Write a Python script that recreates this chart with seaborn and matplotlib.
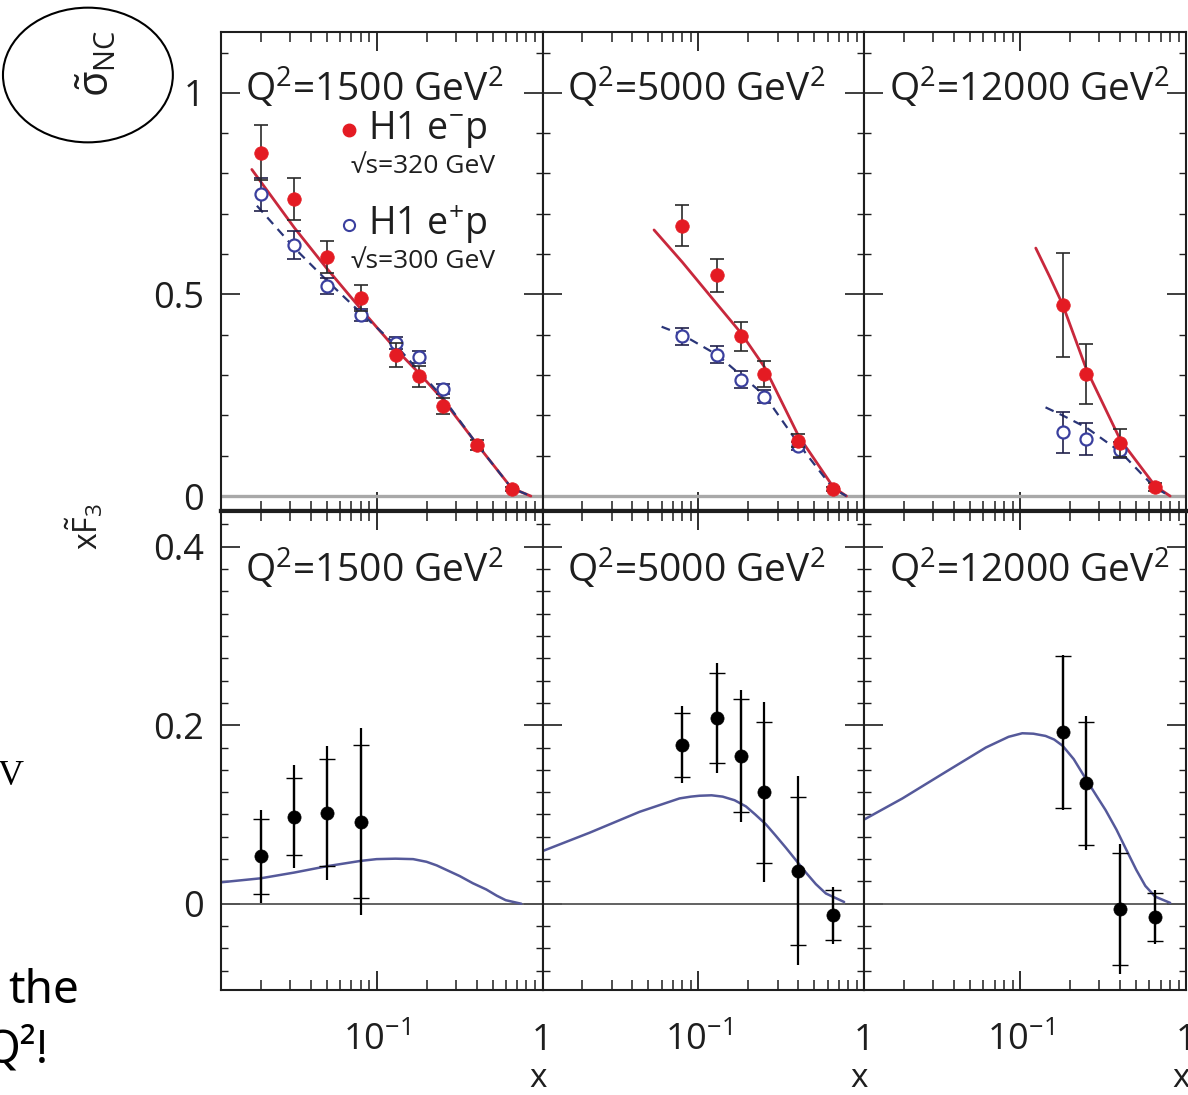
import numpy as np
import matplotlib
matplotlib.use("Agg")
import matplotlib.pyplot as plt
import seaborn as sns
from matplotlib.ticker import FixedLocator, MultipleLocator, FuncFormatter, LogLocator, NullFormatter
from matplotlib.patches import Ellipse

# ---------------- data ----------------
q2_values = ["1500", "5000", "12000"]

# reduced NC cross section, H1 e-p (red, filled)
em_x_1500 = [0.02, 0.032, 0.05, 0.08, 0.13, 0.18, 0.25, 0.40, 0.65]
em_y_1500 = [0.852, 0.737, 0.593, 0.492, 0.350, 0.297, 0.224, 0.127, 0.017]
em_e_1500 = [0.068, 0.052, 0.040, 0.032, 0.030, 0.026, 0.020, 0.012, 0.005]
em_x_5000 = [0.08, 0.13, 0.18, 0.25, 0.40, 0.65]
em_y_5000 = [0.671, 0.548, 0.396, 0.302, 0.137, 0.018]
em_e_5000 = [0.052, 0.041, 0.035, 0.032, 0.016, 0.005]
em_x_12000 = [0.18, 0.25, 0.40, 0.65]
em_y_12000 = [0.474, 0.302, 0.131, 0.022]
em_e_12000 = [0.130, 0.074, 0.035, 0.010]

# H1 e+p (blue, open)
ep_x_1500 = [0.02, 0.032, 0.05, 0.08, 0.13, 0.18, 0.25]
ep_y_1500 = [0.748, 0.622, 0.522, 0.448, 0.380, 0.345, 0.265]
ep_e_1500 = [0.042, 0.035, 0.020, 0.015, 0.015, 0.015, 0.012]
ep_x_5000 = [0.08, 0.13, 0.18, 0.25, 0.40]
ep_y_5000 = [0.396, 0.351, 0.289, 0.246, 0.125]
ep_e_5000 = [0.022, 0.020, 0.020, 0.016, 0.010]
ep_x_12000 = [0.18, 0.25, 0.40]
ep_y_12000 = [0.158, 0.141, 0.115]
ep_e_12000 = [0.050, 0.040, 0.020]

# theory curves, top row
sm_em_x_1500 = [0.0177, 0.02, 0.032, 0.05, 0.08, 0.13, 0.18, 0.25, 0.40, 0.65, 0.85]
sm_em_y_1500 = [0.81, 0.78, 0.665, 0.565, 0.465, 0.365, 0.305, 0.24, 0.13, 0.02, 0.0]
sm_ep_x_1500 = [0.019, 0.032, 0.05, 0.08, 0.13, 0.18, 0.25, 0.40, 0.65, 0.85]
sm_ep_y_1500 = [0.72, 0.615, 0.535, 0.455, 0.375, 0.31, 0.245, 0.13, 0.02, 0.0]
sm_em_x_5000 = [0.054, 0.08, 0.13, 0.18, 0.25, 0.40, 0.65, 0.78]
sm_em_y_5000 = [0.66, 0.58, 0.475, 0.405, 0.32, 0.15, 0.022, 0.0]
sm_ep_x_5000 = [0.06, 0.08, 0.13, 0.18, 0.25, 0.40, 0.65, 0.78]
sm_ep_y_5000 = [0.42, 0.40, 0.35, 0.30, 0.25, 0.13, 0.018, 0.0]
sm_em_x_12000 = [0.124, 0.15, 0.18, 0.25, 0.40, 0.65, 0.80]
sm_em_y_12000 = [0.615, 0.545, 0.475, 0.315, 0.14, 0.025, 0.0]
sm_ep_x_12000 = [0.142, 0.18, 0.25, 0.40, 0.65, 0.80]
sm_ep_y_12000 = [0.22, 0.20, 0.17, 0.11, 0.02, 0.0]

# xF3 (bottom row)
f3_x_1500 = [0.02, 0.032, 0.05, 0.08]
f3_y_1500 = [0.053, 0.0975, 0.102, 0.092]
f3_tot_1500 = [0.052, 0.058, 0.075, 0.105]
f3_sta_1500 = [0.042, 0.043, 0.060, 0.086]
f3_x_5000 = [0.08, 0.13, 0.18, 0.25, 0.40, 0.65]
f3_y_5000 = [0.178, 0.208, 0.166, 0.125, 0.037, -0.013]
f3_tot_5000 = [0.043, 0.062, 0.074, 0.101, 0.106, 0.032]
f3_sta_5000 = [0.036, 0.050, 0.063, 0.079, 0.083, 0.028]
f3_x_12000 = [0.18, 0.25, 0.40, 0.65]
f3_y_12000 = [0.192, 0.135, -0.006, -0.015]
f3_tot_12000 = [0.087, 0.075, 0.073, 0.030]
f3_sta_12000 = [0.085, 0.069, 0.063, 0.027]

th_x_1500 = [0.0115, 0.02, 0.032, 0.05, 0.08, 0.10, 0.13, 0.166, 0.20, 0.23, 0.27, 0.317, 0.38, 0.458, 0.53, 0.60, 0.745]
th_y_1500 = [0.024, 0.0285, 0.035, 0.042, 0.048, 0.050, 0.0505, 0.050, 0.047, 0.043, 0.037, 0.031, 0.023, 0.016, 0.009, 0.004, 0.0]
th_x_5000 = [0.0115, 0.0221, 0.0442, 0.0769, 0.09, 0.1015, 0.12, 0.14, 0.165, 0.1935, 0.22, 0.255, 0.29, 0.337, 0.39, 0.444, 0.51, 0.586, 0.755]
th_y_5000 = [0.059, 0.0796, 0.103, 0.118, 0.120, 0.121, 0.1215, 0.120, 0.116, 0.109, 0.100, 0.089, 0.077, 0.0626, 0.048, 0.035, 0.022, 0.0115, 0.002]
th_x_12000 = [0.0115, 0.0195, 0.034, 0.062, 0.085, 0.1028, 0.12, 0.142, 0.16, 0.18, 0.21, 0.25, 0.29, 0.3265, 0.38, 0.43, 0.50, 0.567, 0.65, 0.80]
th_y_12000 = [0.0945, 0.118, 0.1455, 0.175, 0.187, 0.191, 0.1905, 0.188, 0.184, 0.177, 0.162, 0.139, 0.120, 0.105, 0.083, 0.0626, 0.038, 0.02, 0.008, 0.001]

top_ticks = [0, 0.5, 1]
top_tick_labels = ["0", "0.5", "1"]
bot_ticks = [0, 0.2, 0.4]
bot_tick_labels = ["0", "0.2", "0.4"]

# ---------------- style ----------------
sns.set_theme(style="ticks")
plt.rcParams["font.family"] = ["Open Sans", "DejaVu Sans"]
plt.rcParams["mathtext.fontset"] = "custom"
plt.rcParams["mathtext.rm"] = "Open Sans"
plt.rcParams["mathtext.it"] = "Open Sans:italic"
plt.rcParams["mathtext.bf"] = "Open Sans:bold"
plt.rcParams["mathtext.default"] = "regular"
plt.rcParams["axes.unicode_minus"] = True

RED = "#e41b23"
RED_LINE = "#c8283c"
BLUE = "#3a3f9e"
BLUE_LINE = "#2a3578"
CURVE3 = "#55599a"
INK = "#1e1e1e"

fig = plt.figure(figsize=(11.88, 10.95), dpi=100)
gs = fig.add_gridspec(2, 3, left=0.1858, right=0.9985, bottom=0.0959, top=0.9708,
                      wspace=0, hspace=0)
axes = [[fig.add_subplot(gs[r, c]) for c in range(3)] for r in range(2)]

top_sets = [
    (em_x_1500, em_y_1500, em_e_1500, ep_x_1500, ep_y_1500, ep_e_1500,
     sm_em_x_1500, sm_em_y_1500, sm_ep_x_1500, sm_ep_y_1500),
    (em_x_5000, em_y_5000, em_e_5000, ep_x_5000, ep_y_5000, ep_e_5000,
     sm_em_x_5000, sm_em_y_5000, sm_ep_x_5000, sm_ep_y_5000),
    (em_x_12000, em_y_12000, em_e_12000, ep_x_12000, ep_y_12000, ep_e_12000,
     sm_em_x_12000, sm_em_y_12000, sm_ep_x_12000, sm_ep_y_12000),
]
bot_sets = [
    (f3_x_1500, f3_y_1500, f3_tot_1500, f3_sta_1500, th_x_1500, th_y_1500),
    (f3_x_5000, f3_y_5000, f3_tot_5000, f3_sta_5000, th_x_5000, th_y_5000),
    (f3_x_12000, f3_y_12000, f3_tot_12000, f3_sta_12000, th_x_12000, th_y_12000),
]


def xfmt(v, pos):
    return r"$10^{-1}$" if abs(v - 0.1) < 1e-9 else "1"


def style_axis(ax, row, col):
    ax.set_xscale("log")
    ax.set_xlim(0.0115, 1.0)
    ax.xaxis.set_major_locator(FixedLocator([0.1, 1.0]))
    ax.xaxis.set_minor_locator(LogLocator(base=10, subs=np.arange(2, 10), numticks=30))
    ax.xaxis.set_minor_formatter(NullFormatter())
    ax.xaxis.set_major_formatter(FuncFormatter(xfmt))
    if row == 0:
        ax.set_ylim(-0.037, 1.151)
        ax.yaxis.set_major_locator(FixedLocator(top_ticks))
        ax.yaxis.set_major_formatter(FuncFormatter(lambda v, p: top_tick_labels[top_ticks.index(round(v, 2))]))
        ax.yaxis.set_minor_locator(MultipleLocator(0.1))
    else:
        ax.set_ylim(-0.0966, 0.44)
        ax.yaxis.set_major_locator(FixedLocator(bot_ticks))
        ax.yaxis.set_major_formatter(FuncFormatter(lambda v, p: bot_tick_labels[bot_ticks.index(round(v, 2))]))
        ax.yaxis.set_minor_locator(MultipleLocator(0.025))
    ax.tick_params(which="both", direction="in", top=True, right=True,
                   color=INK, labelcolor=INK)
    ax.tick_params(axis="x", which="major", length=14, width=1.3, labelsize=26, pad=43)
    ax.tick_params(axis="x", which="minor", length=7, width=1.1)
    ax.tick_params(axis="y", which="major", length=14, width=1.2, labelsize=26, pad=12)
    ax.tick_params(axis="y", which="minor", length=5, width=1.0)
    ax.tick_params(labelbottom=(row == 1), labelleft=(col == 0))
    for s in ax.spines.values():
        s.set_linewidth(1.5)
        s.set_color(INK)
    if row == 0:
        ax.spines["bottom"].set_linewidth(3.0)
    else:
        ax.spines["top"].set_linewidth(3.0)
    ax.set_xlabel("")
    ax.set_ylabel("")
    ax.set_facecolor("white")


for col in range(3):
    ax = axes[0][col]
    style_axis(ax, 0, col)
    (exm, eym, eem, exp_, eyp, eep, smx1, smy1, smx2, smy2) = top_sets[col]
    ax.axhline(0, color="#a8a8a8", lw=2.4, zorder=1)
    sns.lineplot(x=smx1, y=smy1, ax=ax, color=RED_LINE, lw=2.0, sort=False,
                 legend=False, zorder=2)
    sns.lineplot(x=smx2, y=smy2, ax=ax, color=BLUE_LINE, lw=1.6, sort=False,
                 linestyle=(0, (4, 3)), legend=False, zorder=2)
    ax.errorbar(exp_, eyp, yerr=eep, fmt="none", ecolor="#20204a", elinewidth=1.2,
                capsize=5, capthick=1.2, zorder=3)
    sns.scatterplot(x=exp_, y=eyp, ax=ax, marker="o", s=75, facecolor="white",
                    edgecolor=BLUE, linewidth=1.6, legend=False, zorder=4)
    ax.errorbar(exm, eym, yerr=eem, fmt="none", ecolor="#2a2a2a", elinewidth=1.2,
                capsize=5, capthick=1.2, zorder=5)
    sns.scatterplot(x=exm, y=eym, ax=ax, marker="o", s=95, color=RED,
                    edgecolor=RED, linewidth=0.5, legend=False, zorder=6)
    ax.text(0.075, 0.883, r"Q$^2$=" + q2_values[col] + r" GeV$^2$", transform=ax.transAxes,
            fontsize=28, ha="left", va="center", color=INK, zorder=7)

for col in range(3):
    ax = axes[1][col]
    style_axis(ax, 1, col)
    (fx, fy, ftot, fsta, tx, ty) = bot_sets[col]
    ax.axhline(0, color="#555555", lw=1.3, zorder=1)
    sns.lineplot(x=tx, y=ty, ax=ax, color=CURVE3, lw=1.8, sort=False, legend=False, zorder=2)
    ax.errorbar(fx, fy, yerr=ftot, fmt="none", ecolor="black", elinewidth=1.6,
                capsize=0, zorder=3)
    ax.errorbar(fx, fy, yerr=fsta, fmt="none", ecolor="black", elinewidth=1.6,
                capsize=6, capthick=1.0, zorder=3)
    sns.scatterplot(x=fx, y=fy, ax=ax, marker="o", s=90, color="black",
                    edgecolor="black", linewidth=0.5, legend=False, zorder=4)
    ax.text(0.075, 0.879, r"Q$^2$=" + q2_values[col] + r" GeV$^2$", transform=ax.transAxes,
            fontsize=28, ha="left", va="center", color=INK, zorder=7)
    ax.set_xlabel("x", fontsize=24, color=INK)
    ax.xaxis.set_label_coords(1.012, -0.202)
    ax.xaxis.label.set_horizontalalignment("right")
    ax.xaxis.label.set_verticalalignment("baseline")
    for lbl in ax.get_xticklabels():
        lbl.set_verticalalignment("baseline")

# legend-like annotation in the first panel
ax0 = axes[0][0]
ax0.plot([0.398], [0.796], "o", transform=ax0.transAxes, color=RED, ms=9, mec=RED)
ax0.text(0.457, 0.796, r"H1 e$^{-}$p", transform=ax0.transAxes, fontsize=27,
         ha="left", va="center", color=INK)
ax0.text(0.405, 0.719, "√s=320 GeV", transform=ax0.transAxes, fontsize=19,
         ha="left", va="center", color=INK)
ax0.plot([0.398], [0.598], "o", transform=ax0.transAxes, mfc="white", mec=BLUE,
         mew=1.5, ms=8)
ax0.text(0.457, 0.598, r"H1 e$^{+}$p", transform=ax0.transAxes, fontsize=27,
         ha="left", va="center", color=INK)
ax0.text(0.405, 0.521, "√s=300 GeV", transform=ax0.transAxes, fontsize=19,
         ha="left", va="center", color=INK)

# axis titles at the left
fig.text(0.0820, 0.942, r"$\tilde{\sigma}_{\mathrm{NC}}$", rotation=90, fontsize=30,
         ha="center", va="center", color=INK)
fig.text(0.0716, 0.5190, r"x$\tilde{\mathrm{F}}_{3}$", rotation=90, fontsize=23,
         ha="center", va="center", color=INK)
fig.add_artist(Ellipse((0.074, 0.9315), 0.143, 0.123, transform=fig.transFigure,
                       fill=False, ec="black", lw=1.5))

# slide text fragments at the left edge
fig.text(-0.002, 1 - 785 / 1095, "V", family=["Liberation Serif", "DejaVu Serif"],
         fontsize=26, ha="left", va="baseline", color="black")
fig.text(0.0067, 1 - 1003 / 1095, "the", family=["Noto Sans", "DejaVu Sans"],
         fontsize=33, ha="left", va="baseline", color="black")
fig.text(-0.013, 1 - 1062 / 1095, "Q²!", family=["Noto Sans", "DejaVu Sans"],
         fontsize=33, ha="left", va="baseline", color="black")

fig.savefig("out.png", dpi=100, facecolor="white")
